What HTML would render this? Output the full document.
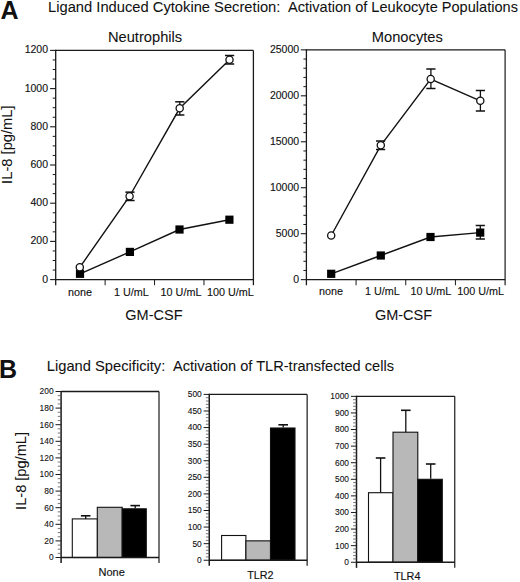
<!DOCTYPE html>
<html><head><meta charset="utf-8"><style>
html,body{margin:0;padding:0;background:#fff;}
body{width:520px;height:582px;overflow:hidden;}
svg{display:block;font-family:"Liberation Sans", sans-serif;fill:#111;}
text{stroke:#111;stroke-width:0.12px;}
text.big{stroke-width:0.06px;}
text.bold{stroke-width:0;}
text.lab{stroke-width:0.15px;}
text.tb{stroke-width:0.1px;}
</style></head><body>
<svg width="520" height="582" viewBox="0 0 520 582" font-family='"Liberation Sans", sans-serif' fill="#111">
<rect x="0" y="0" width="520" height="582" fill="#fff"/>
<text x="0.60" y="18.80" font-size="25.0" text-anchor="start" font-weight="bold"  class="bold">A</text>
<text x="48.00" y="11.80" font-size="14.72" text-anchor="start" font-weight="normal"  class="big">Ligand Induced Cytokine Secretion:</text>
<text x="288.00" y="11.80" font-size="14.57" text-anchor="start" font-weight="normal"  class="big">Activation of Leukocyte Populations</text>
<line x1="55.70" y1="50.40" x2="253.40" y2="50.40" stroke="#1a1a1a" stroke-width="1.3"/>
<line x1="253.40" y1="50.40" x2="253.40" y2="285.20" stroke="#1a1a1a" stroke-width="1.3"/>
<line x1="55.70" y1="49.80" x2="55.70" y2="285.20" stroke="#1a1a1a" stroke-width="1.3"/>
<line x1="55.70" y1="279.60" x2="253.40" y2="279.60" stroke="#1a1a1a" stroke-width="1.4"/>
<line x1="50.10" y1="279.60" x2="55.70" y2="279.60" stroke="#1a1a1a" stroke-width="1.1"/>
<text x="48.00" y="282.60" font-size="10.5" text-anchor="end" font-weight="normal" >0</text>
<line x1="52.70" y1="270.05" x2="55.70" y2="270.05" stroke="#1a1a1a" stroke-width="1.0"/>
<line x1="52.70" y1="260.50" x2="55.70" y2="260.50" stroke="#1a1a1a" stroke-width="1.0"/>
<line x1="52.70" y1="250.95" x2="55.70" y2="250.95" stroke="#1a1a1a" stroke-width="1.0"/>
<line x1="50.10" y1="241.40" x2="55.70" y2="241.40" stroke="#1a1a1a" stroke-width="1.1"/>
<text x="48.00" y="244.40" font-size="10.5" text-anchor="end" font-weight="normal" >200</text>
<line x1="52.70" y1="231.85" x2="55.70" y2="231.85" stroke="#1a1a1a" stroke-width="1.0"/>
<line x1="52.70" y1="222.30" x2="55.70" y2="222.30" stroke="#1a1a1a" stroke-width="1.0"/>
<line x1="52.70" y1="212.75" x2="55.70" y2="212.75" stroke="#1a1a1a" stroke-width="1.0"/>
<line x1="50.10" y1="203.20" x2="55.70" y2="203.20" stroke="#1a1a1a" stroke-width="1.1"/>
<text x="48.00" y="206.20" font-size="10.5" text-anchor="end" font-weight="normal" >400</text>
<line x1="52.70" y1="193.65" x2="55.70" y2="193.65" stroke="#1a1a1a" stroke-width="1.0"/>
<line x1="52.70" y1="184.10" x2="55.70" y2="184.10" stroke="#1a1a1a" stroke-width="1.0"/>
<line x1="52.70" y1="174.55" x2="55.70" y2="174.55" stroke="#1a1a1a" stroke-width="1.0"/>
<line x1="50.10" y1="165.00" x2="55.70" y2="165.00" stroke="#1a1a1a" stroke-width="1.1"/>
<text x="48.00" y="168.00" font-size="10.5" text-anchor="end" font-weight="normal" >600</text>
<line x1="52.70" y1="155.45" x2="55.70" y2="155.45" stroke="#1a1a1a" stroke-width="1.0"/>
<line x1="52.70" y1="145.90" x2="55.70" y2="145.90" stroke="#1a1a1a" stroke-width="1.0"/>
<line x1="52.70" y1="136.35" x2="55.70" y2="136.35" stroke="#1a1a1a" stroke-width="1.0"/>
<line x1="50.10" y1="126.80" x2="55.70" y2="126.80" stroke="#1a1a1a" stroke-width="1.1"/>
<text x="48.00" y="129.80" font-size="10.5" text-anchor="end" font-weight="normal" >800</text>
<line x1="52.70" y1="117.25" x2="55.70" y2="117.25" stroke="#1a1a1a" stroke-width="1.0"/>
<line x1="52.70" y1="107.70" x2="55.70" y2="107.70" stroke="#1a1a1a" stroke-width="1.0"/>
<line x1="52.70" y1="98.15" x2="55.70" y2="98.15" stroke="#1a1a1a" stroke-width="1.0"/>
<line x1="50.10" y1="88.60" x2="55.70" y2="88.60" stroke="#1a1a1a" stroke-width="1.1"/>
<text x="48.00" y="91.60" font-size="10.5" text-anchor="end" font-weight="normal" >1000</text>
<line x1="52.70" y1="79.05" x2="55.70" y2="79.05" stroke="#1a1a1a" stroke-width="1.0"/>
<line x1="52.70" y1="69.50" x2="55.70" y2="69.50" stroke="#1a1a1a" stroke-width="1.0"/>
<line x1="52.70" y1="59.95" x2="55.70" y2="59.95" stroke="#1a1a1a" stroke-width="1.0"/>
<line x1="50.10" y1="50.40" x2="55.70" y2="50.40" stroke="#1a1a1a" stroke-width="1.1"/>
<text x="48.00" y="53.40" font-size="10.5" text-anchor="end" font-weight="normal" >1200</text>
<line x1="105.12" y1="279.60" x2="105.12" y2="285.20" stroke="#1a1a1a" stroke-width="1.0"/>
<line x1="154.55" y1="279.60" x2="154.55" y2="285.20" stroke="#1a1a1a" stroke-width="1.0"/>
<line x1="203.97" y1="279.60" x2="203.97" y2="285.20" stroke="#1a1a1a" stroke-width="1.0"/>
<text x="68.10" y="295.50" font-size="10.8" text-anchor="start" font-weight="normal" >none</text>
<text x="114.00" y="295.50" font-size="10.8" text-anchor="start" font-weight="normal" >1 U/mL</text>
<text x="160.60" y="295.50" font-size="10.8" text-anchor="start" font-weight="normal" >10 U/mL</text>
<text x="207.00" y="295.50" font-size="10.8" text-anchor="start" font-weight="normal" >100 U/mL</text>
<text x="107.90" y="41.80" font-size="14.7" text-anchor="start" font-weight="normal"  class="big">Neutrophils</text>
<text x="125.30" y="319.60" font-size="14.5" text-anchor="start" font-weight="normal"  class="big">GM-CSF</text>
<polyline points="80.00,273.80 129.90,251.90 179.50,229.50 229.40,219.70" fill="none" stroke="#111" stroke-width="1.4"/>
<polyline points="79.80,267.30 129.60,196.25 179.70,108.30 229.50,59.70" fill="none" stroke="#111" stroke-width="1.4"/>
<line x1="130.00" y1="192.15" x2="130.00" y2="200.50" stroke="#111" stroke-width="1.3"/>
<line x1="125.40" y1="192.15" x2="134.60" y2="192.15" stroke="#111" stroke-width="1.5"/>
<line x1="125.40" y1="200.50" x2="134.60" y2="200.50" stroke="#111" stroke-width="1.5"/>
<line x1="179.80" y1="101.80" x2="179.80" y2="115.00" stroke="#111" stroke-width="1.3"/>
<line x1="175.20" y1="101.80" x2="184.40" y2="101.80" stroke="#111" stroke-width="1.5"/>
<line x1="175.20" y1="115.00" x2="184.40" y2="115.00" stroke="#111" stroke-width="1.5"/>
<line x1="229.60" y1="55.50" x2="229.60" y2="64.00" stroke="#111" stroke-width="1.3"/>
<line x1="225.00" y1="55.50" x2="234.20" y2="55.50" stroke="#111" stroke-width="1.5"/>
<line x1="225.00" y1="64.00" x2="234.20" y2="64.00" stroke="#111" stroke-width="1.5"/>
<rect x="75.90" y="269.70" width="8.2" height="8.2" fill="#000"/>
<rect x="125.80" y="247.80" width="8.2" height="8.2" fill="#000"/>
<rect x="175.40" y="225.40" width="8.2" height="8.2" fill="#000"/>
<rect x="225.30" y="215.60" width="8.2" height="8.2" fill="#000"/>
<circle cx="79.80" cy="267.30" r="3.6" fill="#fff" stroke="#111" stroke-width="1.3"/>
<circle cx="129.60" cy="196.25" r="3.6" fill="#fff" stroke="#111" stroke-width="1.3"/>
<circle cx="179.70" cy="108.30" r="3.6" fill="#fff" stroke="#111" stroke-width="1.3"/>
<circle cx="229.50" cy="59.70" r="3.6" fill="#fff" stroke="#111" stroke-width="1.3"/>
<line x1="306.40" y1="49.85" x2="505.10" y2="49.85" stroke="#1a1a1a" stroke-width="1.2"/>
<line x1="505.10" y1="49.85" x2="505.10" y2="285.25" stroke="#1a1a1a" stroke-width="1.2"/>
<line x1="306.40" y1="49.25" x2="306.40" y2="285.25" stroke="#1a1a1a" stroke-width="1.3"/>
<line x1="306.40" y1="279.65" x2="505.10" y2="279.65" stroke="#1a1a1a" stroke-width="1.4"/>
<line x1="300.80" y1="279.65" x2="306.40" y2="279.65" stroke="#1a1a1a" stroke-width="1.1"/>
<text x="299.10" y="282.65" font-size="10.5" text-anchor="end" font-weight="normal" >0</text>
<line x1="303.40" y1="270.46" x2="306.40" y2="270.46" stroke="#1a1a1a" stroke-width="1.0"/>
<line x1="303.40" y1="261.27" x2="306.40" y2="261.27" stroke="#1a1a1a" stroke-width="1.0"/>
<line x1="303.40" y1="252.07" x2="306.40" y2="252.07" stroke="#1a1a1a" stroke-width="1.0"/>
<line x1="303.40" y1="242.88" x2="306.40" y2="242.88" stroke="#1a1a1a" stroke-width="1.0"/>
<line x1="300.80" y1="233.69" x2="306.40" y2="233.69" stroke="#1a1a1a" stroke-width="1.1"/>
<text x="299.10" y="236.69" font-size="10.5" text-anchor="end" font-weight="normal" >5000</text>
<line x1="303.40" y1="224.50" x2="306.40" y2="224.50" stroke="#1a1a1a" stroke-width="1.0"/>
<line x1="303.40" y1="215.31" x2="306.40" y2="215.31" stroke="#1a1a1a" stroke-width="1.0"/>
<line x1="303.40" y1="206.11" x2="306.40" y2="206.11" stroke="#1a1a1a" stroke-width="1.0"/>
<line x1="303.40" y1="196.92" x2="306.40" y2="196.92" stroke="#1a1a1a" stroke-width="1.0"/>
<line x1="300.80" y1="187.73" x2="306.40" y2="187.73" stroke="#1a1a1a" stroke-width="1.1"/>
<text x="299.10" y="190.73" font-size="10.5" text-anchor="end" font-weight="normal" >10000</text>
<line x1="303.40" y1="178.54" x2="306.40" y2="178.54" stroke="#1a1a1a" stroke-width="1.0"/>
<line x1="303.40" y1="169.35" x2="306.40" y2="169.35" stroke="#1a1a1a" stroke-width="1.0"/>
<line x1="303.40" y1="160.15" x2="306.40" y2="160.15" stroke="#1a1a1a" stroke-width="1.0"/>
<line x1="303.40" y1="150.96" x2="306.40" y2="150.96" stroke="#1a1a1a" stroke-width="1.0"/>
<line x1="300.80" y1="141.77" x2="306.40" y2="141.77" stroke="#1a1a1a" stroke-width="1.1"/>
<text x="299.10" y="144.77" font-size="10.5" text-anchor="end" font-weight="normal" >15000</text>
<line x1="303.40" y1="132.58" x2="306.40" y2="132.58" stroke="#1a1a1a" stroke-width="1.0"/>
<line x1="303.40" y1="123.39" x2="306.40" y2="123.39" stroke="#1a1a1a" stroke-width="1.0"/>
<line x1="303.40" y1="114.19" x2="306.40" y2="114.19" stroke="#1a1a1a" stroke-width="1.0"/>
<line x1="303.40" y1="105.00" x2="306.40" y2="105.00" stroke="#1a1a1a" stroke-width="1.0"/>
<line x1="300.80" y1="95.81" x2="306.40" y2="95.81" stroke="#1a1a1a" stroke-width="1.1"/>
<text x="299.10" y="98.81" font-size="10.5" text-anchor="end" font-weight="normal" >20000</text>
<line x1="303.40" y1="86.62" x2="306.40" y2="86.62" stroke="#1a1a1a" stroke-width="1.0"/>
<line x1="303.40" y1="77.43" x2="306.40" y2="77.43" stroke="#1a1a1a" stroke-width="1.0"/>
<line x1="303.40" y1="68.23" x2="306.40" y2="68.23" stroke="#1a1a1a" stroke-width="1.0"/>
<line x1="303.40" y1="59.04" x2="306.40" y2="59.04" stroke="#1a1a1a" stroke-width="1.0"/>
<line x1="300.80" y1="49.85" x2="306.40" y2="49.85" stroke="#1a1a1a" stroke-width="1.1"/>
<text x="299.10" y="52.85" font-size="10.5" text-anchor="end" font-weight="normal" >25000</text>
<line x1="356.07" y1="279.65" x2="356.07" y2="285.25" stroke="#1a1a1a" stroke-width="1.0"/>
<line x1="405.75" y1="279.65" x2="405.75" y2="285.25" stroke="#1a1a1a" stroke-width="1.0"/>
<line x1="455.43" y1="279.65" x2="455.43" y2="285.25" stroke="#1a1a1a" stroke-width="1.0"/>
<text x="319.00" y="295.00" font-size="10.8" text-anchor="start" font-weight="normal" >none</text>
<text x="365.00" y="295.00" font-size="10.8" text-anchor="start" font-weight="normal" >1 U/mL</text>
<text x="410.50" y="295.00" font-size="10.8" text-anchor="start" font-weight="normal" >10 U/mL</text>
<text x="457.20" y="295.00" font-size="10.8" text-anchor="start" font-weight="normal" >100 U/mL</text>
<text x="371.80" y="41.80" font-size="14.7" text-anchor="start" font-weight="normal"  class="big">Monocytes</text>
<text x="374.90" y="319.60" font-size="14.5" text-anchor="start" font-weight="normal"  class="big">GM-CSF</text>
<polyline points="331.20,273.80 380.80,255.50 430.50,237.00 480.20,232.60" fill="none" stroke="#111" stroke-width="1.4"/>
<polyline points="331.20,235.50 380.80,145.30 430.70,79.00 480.30,100.80" fill="none" stroke="#111" stroke-width="1.4"/>
<line x1="380.60" y1="141.00" x2="380.60" y2="149.50" stroke="#111" stroke-width="1.3"/>
<line x1="376.00" y1="141.00" x2="385.20" y2="141.00" stroke="#111" stroke-width="1.5"/>
<line x1="376.00" y1="149.50" x2="385.20" y2="149.50" stroke="#111" stroke-width="1.5"/>
<line x1="430.90" y1="69.00" x2="430.90" y2="88.50" stroke="#111" stroke-width="1.3"/>
<line x1="426.30" y1="69.00" x2="435.50" y2="69.00" stroke="#111" stroke-width="1.5"/>
<line x1="426.30" y1="88.50" x2="435.50" y2="88.50" stroke="#111" stroke-width="1.5"/>
<line x1="480.40" y1="90.50" x2="480.40" y2="111.00" stroke="#111" stroke-width="1.3"/>
<line x1="475.80" y1="90.50" x2="485.00" y2="90.50" stroke="#111" stroke-width="1.5"/>
<line x1="475.80" y1="111.00" x2="485.00" y2="111.00" stroke="#111" stroke-width="1.5"/>
<line x1="480.30" y1="225.50" x2="480.30" y2="239.00" stroke="#111" stroke-width="1.3"/>
<line x1="475.70" y1="225.50" x2="484.90" y2="225.50" stroke="#111" stroke-width="1.5"/>
<line x1="475.70" y1="239.00" x2="484.90" y2="239.00" stroke="#111" stroke-width="1.5"/>
<rect x="327.10" y="269.70" width="8.2" height="8.2" fill="#000"/>
<rect x="376.70" y="251.40" width="8.2" height="8.2" fill="#000"/>
<rect x="426.40" y="232.90" width="8.2" height="8.2" fill="#000"/>
<rect x="476.10" y="228.50" width="8.2" height="8.2" fill="#000"/>
<circle cx="331.20" cy="235.50" r="3.6" fill="#fff" stroke="#111" stroke-width="1.3"/>
<circle cx="380.80" cy="145.30" r="3.6" fill="#fff" stroke="#111" stroke-width="1.3"/>
<circle cx="430.70" cy="79.00" r="3.6" fill="#fff" stroke="#111" stroke-width="1.3"/>
<circle cx="480.30" cy="100.80" r="3.6" fill="#fff" stroke="#111" stroke-width="1.3"/>
<text x="-0.90" y="378.00" font-size="25.0" text-anchor="start" font-weight="bold"  class="bold">B</text>
<text x="46.80" y="370.80" font-size="14.71" text-anchor="start" font-weight="normal"  class="big">Ligand Specificity:</text>
<text x="173.00" y="370.80" font-size="14.59" text-anchor="start" font-weight="normal"  class="big">Activation of TLR-transfected cells</text>
<text class="big" transform="translate(25.9,509.9) rotate(-90)" font-size="14.6">IL-8 [pg/mL]</text>
<text class="big" transform="translate(11.6,183.9) rotate(-90)" font-size="14.73">IL-8 [pg/mL]</text>
<line x1="61.10" y1="391.50" x2="159.00" y2="391.50" stroke="#1a1a1a" stroke-width="1.3"/>
<line x1="159.00" y1="391.50" x2="159.00" y2="563.10" stroke="#1a1a1a" stroke-width="1.2"/>
<line x1="61.10" y1="390.90" x2="61.10" y2="563.10" stroke="#1a1a1a" stroke-width="1.5"/>
<line x1="55.50" y1="557.50" x2="61.10" y2="557.50" stroke="#1a1a1a" stroke-width="1.0"/>
<text x="53.60" y="560.40" font-size="8.4" text-anchor="end" font-weight="normal" class="tb">0</text>
<line x1="57.70" y1="553.35" x2="61.10" y2="553.35" stroke="#555" stroke-width="0.8"/>
<line x1="57.70" y1="549.20" x2="61.10" y2="549.20" stroke="#555" stroke-width="0.8"/>
<line x1="57.70" y1="545.05" x2="61.10" y2="545.05" stroke="#555" stroke-width="0.8"/>
<line x1="55.50" y1="540.90" x2="61.10" y2="540.90" stroke="#1a1a1a" stroke-width="1.0"/>
<text x="53.60" y="543.80" font-size="8.4" text-anchor="end" font-weight="normal" class="tb">20</text>
<line x1="57.70" y1="536.75" x2="61.10" y2="536.75" stroke="#555" stroke-width="0.8"/>
<line x1="57.70" y1="532.60" x2="61.10" y2="532.60" stroke="#555" stroke-width="0.8"/>
<line x1="57.70" y1="528.45" x2="61.10" y2="528.45" stroke="#555" stroke-width="0.8"/>
<line x1="55.50" y1="524.30" x2="61.10" y2="524.30" stroke="#1a1a1a" stroke-width="1.0"/>
<text x="53.60" y="527.20" font-size="8.4" text-anchor="end" font-weight="normal" class="tb">40</text>
<line x1="57.70" y1="520.15" x2="61.10" y2="520.15" stroke="#555" stroke-width="0.8"/>
<line x1="57.70" y1="516.00" x2="61.10" y2="516.00" stroke="#555" stroke-width="0.8"/>
<line x1="57.70" y1="511.85" x2="61.10" y2="511.85" stroke="#555" stroke-width="0.8"/>
<line x1="55.50" y1="507.70" x2="61.10" y2="507.70" stroke="#1a1a1a" stroke-width="1.0"/>
<text x="53.60" y="510.60" font-size="8.4" text-anchor="end" font-weight="normal" class="tb">60</text>
<line x1="57.70" y1="503.55" x2="61.10" y2="503.55" stroke="#555" stroke-width="0.8"/>
<line x1="57.70" y1="499.40" x2="61.10" y2="499.40" stroke="#555" stroke-width="0.8"/>
<line x1="57.70" y1="495.25" x2="61.10" y2="495.25" stroke="#555" stroke-width="0.8"/>
<line x1="55.50" y1="491.10" x2="61.10" y2="491.10" stroke="#1a1a1a" stroke-width="1.0"/>
<text x="53.60" y="494.00" font-size="8.4" text-anchor="end" font-weight="normal" class="tb">80</text>
<line x1="57.70" y1="486.95" x2="61.10" y2="486.95" stroke="#555" stroke-width="0.8"/>
<line x1="57.70" y1="482.80" x2="61.10" y2="482.80" stroke="#555" stroke-width="0.8"/>
<line x1="57.70" y1="478.65" x2="61.10" y2="478.65" stroke="#555" stroke-width="0.8"/>
<line x1="55.50" y1="474.50" x2="61.10" y2="474.50" stroke="#1a1a1a" stroke-width="1.0"/>
<text x="53.60" y="477.40" font-size="8.4" text-anchor="end" font-weight="normal" class="tb">100</text>
<line x1="57.70" y1="470.35" x2="61.10" y2="470.35" stroke="#555" stroke-width="0.8"/>
<line x1="57.70" y1="466.20" x2="61.10" y2="466.20" stroke="#555" stroke-width="0.8"/>
<line x1="57.70" y1="462.05" x2="61.10" y2="462.05" stroke="#555" stroke-width="0.8"/>
<line x1="55.50" y1="457.90" x2="61.10" y2="457.90" stroke="#1a1a1a" stroke-width="1.0"/>
<text x="53.60" y="460.80" font-size="8.4" text-anchor="end" font-weight="normal" class="tb">120</text>
<line x1="57.70" y1="453.75" x2="61.10" y2="453.75" stroke="#555" stroke-width="0.8"/>
<line x1="57.70" y1="449.60" x2="61.10" y2="449.60" stroke="#555" stroke-width="0.8"/>
<line x1="57.70" y1="445.45" x2="61.10" y2="445.45" stroke="#555" stroke-width="0.8"/>
<line x1="55.50" y1="441.30" x2="61.10" y2="441.30" stroke="#1a1a1a" stroke-width="1.0"/>
<text x="53.60" y="444.20" font-size="8.4" text-anchor="end" font-weight="normal" class="tb">140</text>
<line x1="57.70" y1="437.15" x2="61.10" y2="437.15" stroke="#555" stroke-width="0.8"/>
<line x1="57.70" y1="433.00" x2="61.10" y2="433.00" stroke="#555" stroke-width="0.8"/>
<line x1="57.70" y1="428.85" x2="61.10" y2="428.85" stroke="#555" stroke-width="0.8"/>
<line x1="55.50" y1="424.70" x2="61.10" y2="424.70" stroke="#1a1a1a" stroke-width="1.0"/>
<text x="53.60" y="427.60" font-size="8.4" text-anchor="end" font-weight="normal" class="tb">160</text>
<line x1="57.70" y1="420.55" x2="61.10" y2="420.55" stroke="#555" stroke-width="0.8"/>
<line x1="57.70" y1="416.40" x2="61.10" y2="416.40" stroke="#555" stroke-width="0.8"/>
<line x1="57.70" y1="412.25" x2="61.10" y2="412.25" stroke="#555" stroke-width="0.8"/>
<line x1="55.50" y1="408.10" x2="61.10" y2="408.10" stroke="#1a1a1a" stroke-width="1.0"/>
<text x="53.60" y="411.00" font-size="8.4" text-anchor="end" font-weight="normal" class="tb">180</text>
<line x1="57.70" y1="403.95" x2="61.10" y2="403.95" stroke="#555" stroke-width="0.8"/>
<line x1="57.70" y1="399.80" x2="61.10" y2="399.80" stroke="#555" stroke-width="0.8"/>
<line x1="57.70" y1="395.65" x2="61.10" y2="395.65" stroke="#555" stroke-width="0.8"/>
<line x1="55.50" y1="391.50" x2="61.10" y2="391.50" stroke="#1a1a1a" stroke-width="1.0"/>
<text x="53.60" y="394.40" font-size="8.4" text-anchor="end" font-weight="normal" class="tb">200</text>
<rect x="72.30" y="518.90" width="25.10" height="38.60" fill="#fff" stroke="#111" stroke-width="1.1"/>
<line x1="85.70" y1="515.80" x2="85.70" y2="518.90" stroke="#111" stroke-width="1.3"/>
<line x1="80.90" y1="515.80" x2="90.50" y2="515.80" stroke="#111" stroke-width="1.6"/>
<rect x="97.30" y="507.30" width="24.90" height="50.20" fill="#b8b8b8" stroke="#111" stroke-width="1.1"/>
<rect x="122.20" y="508.80" width="24.10" height="48.70" fill="#000" stroke="#111" stroke-width="1.1"/>
<line x1="135.20" y1="505.60" x2="135.20" y2="508.30" stroke="#111" stroke-width="1.3"/>
<line x1="130.40" y1="505.60" x2="140.00" y2="505.60" stroke="#111" stroke-width="1.6"/>
<line x1="61.10" y1="557.50" x2="159.00" y2="557.50" stroke="#1a1a1a" stroke-width="1.4"/>
<text x="98.50" y="576.40" font-size="11" text-anchor="start" font-weight="normal" class="lab">None</text>
<line x1="209.25" y1="394.40" x2="307.15" y2="394.40" stroke="#1a1a1a" stroke-width="1.3"/>
<line x1="307.15" y1="394.40" x2="307.15" y2="565.85" stroke="#1a1a1a" stroke-width="1.2"/>
<line x1="209.25" y1="393.80" x2="209.25" y2="565.85" stroke="#1a1a1a" stroke-width="1.5"/>
<line x1="203.65" y1="560.25" x2="209.25" y2="560.25" stroke="#1a1a1a" stroke-width="1.0"/>
<text x="201.75" y="563.15" font-size="8.4" text-anchor="end" font-weight="normal" class="tb">0</text>
<line x1="205.85" y1="556.93" x2="209.25" y2="556.93" stroke="#555" stroke-width="0.8"/>
<line x1="205.85" y1="553.62" x2="209.25" y2="553.62" stroke="#555" stroke-width="0.8"/>
<line x1="205.85" y1="550.30" x2="209.25" y2="550.30" stroke="#555" stroke-width="0.8"/>
<line x1="205.85" y1="546.98" x2="209.25" y2="546.98" stroke="#555" stroke-width="0.8"/>
<line x1="203.65" y1="543.66" x2="209.25" y2="543.66" stroke="#1a1a1a" stroke-width="1.0"/>
<text x="201.75" y="546.56" font-size="8.4" text-anchor="end" font-weight="normal" class="tb">50</text>
<line x1="205.85" y1="540.35" x2="209.25" y2="540.35" stroke="#555" stroke-width="0.8"/>
<line x1="205.85" y1="537.03" x2="209.25" y2="537.03" stroke="#555" stroke-width="0.8"/>
<line x1="205.85" y1="533.71" x2="209.25" y2="533.71" stroke="#555" stroke-width="0.8"/>
<line x1="205.85" y1="530.40" x2="209.25" y2="530.40" stroke="#555" stroke-width="0.8"/>
<line x1="203.65" y1="527.08" x2="209.25" y2="527.08" stroke="#1a1a1a" stroke-width="1.0"/>
<text x="201.75" y="529.98" font-size="8.4" text-anchor="end" font-weight="normal" class="tb">100</text>
<line x1="205.85" y1="523.76" x2="209.25" y2="523.76" stroke="#555" stroke-width="0.8"/>
<line x1="205.85" y1="520.45" x2="209.25" y2="520.45" stroke="#555" stroke-width="0.8"/>
<line x1="205.85" y1="517.13" x2="209.25" y2="517.13" stroke="#555" stroke-width="0.8"/>
<line x1="205.85" y1="513.81" x2="209.25" y2="513.81" stroke="#555" stroke-width="0.8"/>
<line x1="203.65" y1="510.50" x2="209.25" y2="510.50" stroke="#1a1a1a" stroke-width="1.0"/>
<text x="201.75" y="513.39" font-size="8.4" text-anchor="end" font-weight="normal" class="tb">150</text>
<line x1="205.85" y1="507.18" x2="209.25" y2="507.18" stroke="#555" stroke-width="0.8"/>
<line x1="205.85" y1="503.86" x2="209.25" y2="503.86" stroke="#555" stroke-width="0.8"/>
<line x1="205.85" y1="500.54" x2="209.25" y2="500.54" stroke="#555" stroke-width="0.8"/>
<line x1="205.85" y1="497.23" x2="209.25" y2="497.23" stroke="#555" stroke-width="0.8"/>
<line x1="203.65" y1="493.91" x2="209.25" y2="493.91" stroke="#1a1a1a" stroke-width="1.0"/>
<text x="201.75" y="496.81" font-size="8.4" text-anchor="end" font-weight="normal" class="tb">200</text>
<line x1="205.85" y1="490.59" x2="209.25" y2="490.59" stroke="#555" stroke-width="0.8"/>
<line x1="205.85" y1="487.28" x2="209.25" y2="487.28" stroke="#555" stroke-width="0.8"/>
<line x1="205.85" y1="483.96" x2="209.25" y2="483.96" stroke="#555" stroke-width="0.8"/>
<line x1="205.85" y1="480.64" x2="209.25" y2="480.64" stroke="#555" stroke-width="0.8"/>
<line x1="203.65" y1="477.32" x2="209.25" y2="477.32" stroke="#1a1a1a" stroke-width="1.0"/>
<text x="201.75" y="480.22" font-size="8.4" text-anchor="end" font-weight="normal" class="tb">250</text>
<line x1="205.85" y1="474.01" x2="209.25" y2="474.01" stroke="#555" stroke-width="0.8"/>
<line x1="205.85" y1="470.69" x2="209.25" y2="470.69" stroke="#555" stroke-width="0.8"/>
<line x1="205.85" y1="467.37" x2="209.25" y2="467.37" stroke="#555" stroke-width="0.8"/>
<line x1="205.85" y1="464.06" x2="209.25" y2="464.06" stroke="#555" stroke-width="0.8"/>
<line x1="203.65" y1="460.74" x2="209.25" y2="460.74" stroke="#1a1a1a" stroke-width="1.0"/>
<text x="201.75" y="463.64" font-size="8.4" text-anchor="end" font-weight="normal" class="tb">300</text>
<line x1="205.85" y1="457.42" x2="209.25" y2="457.42" stroke="#555" stroke-width="0.8"/>
<line x1="205.85" y1="454.11" x2="209.25" y2="454.11" stroke="#555" stroke-width="0.8"/>
<line x1="205.85" y1="450.79" x2="209.25" y2="450.79" stroke="#555" stroke-width="0.8"/>
<line x1="205.85" y1="447.47" x2="209.25" y2="447.47" stroke="#555" stroke-width="0.8"/>
<line x1="203.65" y1="444.15" x2="209.25" y2="444.15" stroke="#1a1a1a" stroke-width="1.0"/>
<text x="201.75" y="447.05" font-size="8.4" text-anchor="end" font-weight="normal" class="tb">350</text>
<line x1="205.85" y1="440.84" x2="209.25" y2="440.84" stroke="#555" stroke-width="0.8"/>
<line x1="205.85" y1="437.52" x2="209.25" y2="437.52" stroke="#555" stroke-width="0.8"/>
<line x1="205.85" y1="434.20" x2="209.25" y2="434.20" stroke="#555" stroke-width="0.8"/>
<line x1="205.85" y1="430.89" x2="209.25" y2="430.89" stroke="#555" stroke-width="0.8"/>
<line x1="203.65" y1="427.57" x2="209.25" y2="427.57" stroke="#1a1a1a" stroke-width="1.0"/>
<text x="201.75" y="430.47" font-size="8.4" text-anchor="end" font-weight="normal" class="tb">400</text>
<line x1="205.85" y1="424.25" x2="209.25" y2="424.25" stroke="#555" stroke-width="0.8"/>
<line x1="205.85" y1="420.94" x2="209.25" y2="420.94" stroke="#555" stroke-width="0.8"/>
<line x1="205.85" y1="417.62" x2="209.25" y2="417.62" stroke="#555" stroke-width="0.8"/>
<line x1="205.85" y1="414.30" x2="209.25" y2="414.30" stroke="#555" stroke-width="0.8"/>
<line x1="203.65" y1="410.99" x2="209.25" y2="410.99" stroke="#1a1a1a" stroke-width="1.0"/>
<text x="201.75" y="413.88" font-size="8.4" text-anchor="end" font-weight="normal" class="tb">450</text>
<line x1="205.85" y1="407.67" x2="209.25" y2="407.67" stroke="#555" stroke-width="0.8"/>
<line x1="205.85" y1="404.35" x2="209.25" y2="404.35" stroke="#555" stroke-width="0.8"/>
<line x1="205.85" y1="401.03" x2="209.25" y2="401.03" stroke="#555" stroke-width="0.8"/>
<line x1="205.85" y1="397.72" x2="209.25" y2="397.72" stroke="#555" stroke-width="0.8"/>
<line x1="203.65" y1="394.40" x2="209.25" y2="394.40" stroke="#1a1a1a" stroke-width="1.0"/>
<text x="201.75" y="397.30" font-size="8.4" text-anchor="end" font-weight="normal" class="tb">500</text>
<rect x="221.60" y="535.50" width="24.30" height="24.75" fill="#fff" stroke="#111" stroke-width="1.1"/>
<rect x="245.90" y="540.85" width="24.60" height="19.40" fill="#b8b8b8" stroke="#111" stroke-width="1.1"/>
<rect x="270.50" y="428.00" width="24.50" height="132.25" fill="#000" stroke="#111" stroke-width="1.1"/>
<line x1="283.20" y1="424.80" x2="283.20" y2="427.50" stroke="#111" stroke-width="1.3"/>
<line x1="278.40" y1="424.80" x2="288.00" y2="424.80" stroke="#111" stroke-width="1.6"/>
<line x1="209.25" y1="560.25" x2="307.15" y2="560.25" stroke="#1a1a1a" stroke-width="1.4"/>
<text x="247.20" y="578.80" font-size="10.8" text-anchor="start" font-weight="normal" class="lab">TLR2</text>
<line x1="356.50" y1="396.35" x2="454.75" y2="396.35" stroke="#1a1a1a" stroke-width="1.3"/>
<line x1="454.75" y1="396.35" x2="454.75" y2="567.85" stroke="#1a1a1a" stroke-width="1.2"/>
<line x1="356.50" y1="395.75" x2="356.50" y2="567.85" stroke="#1a1a1a" stroke-width="1.5"/>
<line x1="350.90" y1="562.25" x2="356.50" y2="562.25" stroke="#1a1a1a" stroke-width="1.0"/>
<text x="349.00" y="565.15" font-size="8.4" text-anchor="end" font-weight="normal" class="tb">0</text>
<line x1="353.10" y1="558.93" x2="356.50" y2="558.93" stroke="#555" stroke-width="0.8"/>
<line x1="353.10" y1="555.61" x2="356.50" y2="555.61" stroke="#555" stroke-width="0.8"/>
<line x1="353.10" y1="552.30" x2="356.50" y2="552.30" stroke="#555" stroke-width="0.8"/>
<line x1="353.10" y1="548.98" x2="356.50" y2="548.98" stroke="#555" stroke-width="0.8"/>
<line x1="350.90" y1="545.66" x2="356.50" y2="545.66" stroke="#1a1a1a" stroke-width="1.0"/>
<text x="349.00" y="548.56" font-size="8.4" text-anchor="end" font-weight="normal" class="tb">100</text>
<line x1="353.10" y1="542.34" x2="356.50" y2="542.34" stroke="#555" stroke-width="0.8"/>
<line x1="353.10" y1="539.02" x2="356.50" y2="539.02" stroke="#555" stroke-width="0.8"/>
<line x1="353.10" y1="535.71" x2="356.50" y2="535.71" stroke="#555" stroke-width="0.8"/>
<line x1="353.10" y1="532.39" x2="356.50" y2="532.39" stroke="#555" stroke-width="0.8"/>
<line x1="350.90" y1="529.07" x2="356.50" y2="529.07" stroke="#1a1a1a" stroke-width="1.0"/>
<text x="349.00" y="531.97" font-size="8.4" text-anchor="end" font-weight="normal" class="tb">200</text>
<line x1="353.10" y1="525.75" x2="356.50" y2="525.75" stroke="#555" stroke-width="0.8"/>
<line x1="353.10" y1="522.43" x2="356.50" y2="522.43" stroke="#555" stroke-width="0.8"/>
<line x1="353.10" y1="519.12" x2="356.50" y2="519.12" stroke="#555" stroke-width="0.8"/>
<line x1="353.10" y1="515.80" x2="356.50" y2="515.80" stroke="#555" stroke-width="0.8"/>
<line x1="350.90" y1="512.48" x2="356.50" y2="512.48" stroke="#1a1a1a" stroke-width="1.0"/>
<text x="349.00" y="515.38" font-size="8.4" text-anchor="end" font-weight="normal" class="tb">300</text>
<line x1="353.10" y1="509.16" x2="356.50" y2="509.16" stroke="#555" stroke-width="0.8"/>
<line x1="353.10" y1="505.84" x2="356.50" y2="505.84" stroke="#555" stroke-width="0.8"/>
<line x1="353.10" y1="502.53" x2="356.50" y2="502.53" stroke="#555" stroke-width="0.8"/>
<line x1="353.10" y1="499.21" x2="356.50" y2="499.21" stroke="#555" stroke-width="0.8"/>
<line x1="350.90" y1="495.89" x2="356.50" y2="495.89" stroke="#1a1a1a" stroke-width="1.0"/>
<text x="349.00" y="498.79" font-size="8.4" text-anchor="end" font-weight="normal" class="tb">400</text>
<line x1="353.10" y1="492.57" x2="356.50" y2="492.57" stroke="#555" stroke-width="0.8"/>
<line x1="353.10" y1="489.25" x2="356.50" y2="489.25" stroke="#555" stroke-width="0.8"/>
<line x1="353.10" y1="485.94" x2="356.50" y2="485.94" stroke="#555" stroke-width="0.8"/>
<line x1="353.10" y1="482.62" x2="356.50" y2="482.62" stroke="#555" stroke-width="0.8"/>
<line x1="350.90" y1="479.30" x2="356.50" y2="479.30" stroke="#1a1a1a" stroke-width="1.0"/>
<text x="349.00" y="482.20" font-size="8.4" text-anchor="end" font-weight="normal" class="tb">500</text>
<line x1="353.10" y1="475.98" x2="356.50" y2="475.98" stroke="#555" stroke-width="0.8"/>
<line x1="353.10" y1="472.66" x2="356.50" y2="472.66" stroke="#555" stroke-width="0.8"/>
<line x1="353.10" y1="469.35" x2="356.50" y2="469.35" stroke="#555" stroke-width="0.8"/>
<line x1="353.10" y1="466.03" x2="356.50" y2="466.03" stroke="#555" stroke-width="0.8"/>
<line x1="350.90" y1="462.71" x2="356.50" y2="462.71" stroke="#1a1a1a" stroke-width="1.0"/>
<text x="349.00" y="465.61" font-size="8.4" text-anchor="end" font-weight="normal" class="tb">600</text>
<line x1="353.10" y1="459.39" x2="356.50" y2="459.39" stroke="#555" stroke-width="0.8"/>
<line x1="353.10" y1="456.07" x2="356.50" y2="456.07" stroke="#555" stroke-width="0.8"/>
<line x1="353.10" y1="452.76" x2="356.50" y2="452.76" stroke="#555" stroke-width="0.8"/>
<line x1="353.10" y1="449.44" x2="356.50" y2="449.44" stroke="#555" stroke-width="0.8"/>
<line x1="350.90" y1="446.12" x2="356.50" y2="446.12" stroke="#1a1a1a" stroke-width="1.0"/>
<text x="349.00" y="449.02" font-size="8.4" text-anchor="end" font-weight="normal" class="tb">700</text>
<line x1="353.10" y1="442.80" x2="356.50" y2="442.80" stroke="#555" stroke-width="0.8"/>
<line x1="353.10" y1="439.48" x2="356.50" y2="439.48" stroke="#555" stroke-width="0.8"/>
<line x1="353.10" y1="436.17" x2="356.50" y2="436.17" stroke="#555" stroke-width="0.8"/>
<line x1="353.10" y1="432.85" x2="356.50" y2="432.85" stroke="#555" stroke-width="0.8"/>
<line x1="350.90" y1="429.53" x2="356.50" y2="429.53" stroke="#1a1a1a" stroke-width="1.0"/>
<text x="349.00" y="432.43" font-size="8.4" text-anchor="end" font-weight="normal" class="tb">800</text>
<line x1="353.10" y1="426.21" x2="356.50" y2="426.21" stroke="#555" stroke-width="0.8"/>
<line x1="353.10" y1="422.89" x2="356.50" y2="422.89" stroke="#555" stroke-width="0.8"/>
<line x1="353.10" y1="419.58" x2="356.50" y2="419.58" stroke="#555" stroke-width="0.8"/>
<line x1="353.10" y1="416.26" x2="356.50" y2="416.26" stroke="#555" stroke-width="0.8"/>
<line x1="350.90" y1="412.94" x2="356.50" y2="412.94" stroke="#1a1a1a" stroke-width="1.0"/>
<text x="349.00" y="415.84" font-size="8.4" text-anchor="end" font-weight="normal" class="tb">900</text>
<line x1="353.10" y1="409.62" x2="356.50" y2="409.62" stroke="#555" stroke-width="0.8"/>
<line x1="353.10" y1="406.30" x2="356.50" y2="406.30" stroke="#555" stroke-width="0.8"/>
<line x1="353.10" y1="402.99" x2="356.50" y2="402.99" stroke="#555" stroke-width="0.8"/>
<line x1="353.10" y1="399.67" x2="356.50" y2="399.67" stroke="#555" stroke-width="0.8"/>
<line x1="350.90" y1="396.35" x2="356.50" y2="396.35" stroke="#1a1a1a" stroke-width="1.0"/>
<text x="349.00" y="399.25" font-size="8.4" text-anchor="end" font-weight="normal" class="tb">1000</text>
<rect x="368.50" y="492.70" width="24.50" height="69.55" fill="#fff" stroke="#111" stroke-width="1.1"/>
<line x1="380.60" y1="458.00" x2="380.60" y2="492.70" stroke="#111" stroke-width="1.3"/>
<line x1="375.80" y1="458.00" x2="385.40" y2="458.00" stroke="#111" stroke-width="1.6"/>
<rect x="393.00" y="432.20" width="24.80" height="130.05" fill="#b8b8b8" stroke="#111" stroke-width="1.1"/>
<line x1="405.80" y1="410.30" x2="405.80" y2="432.20" stroke="#111" stroke-width="1.3"/>
<line x1="401.00" y1="410.30" x2="410.60" y2="410.30" stroke="#111" stroke-width="1.6"/>
<rect x="417.80" y="479.30" width="24.50" height="82.95" fill="#000" stroke="#111" stroke-width="1.1"/>
<line x1="430.70" y1="464.00" x2="430.70" y2="478.80" stroke="#111" stroke-width="1.3"/>
<line x1="425.90" y1="464.00" x2="435.50" y2="464.00" stroke="#111" stroke-width="1.6"/>
<line x1="356.50" y1="562.25" x2="454.75" y2="562.25" stroke="#1a1a1a" stroke-width="1.4"/>
<text x="394.00" y="579.90" font-size="10.8" text-anchor="start" font-weight="normal" class="lab">TLR4</text>
</svg>
</body></html>
